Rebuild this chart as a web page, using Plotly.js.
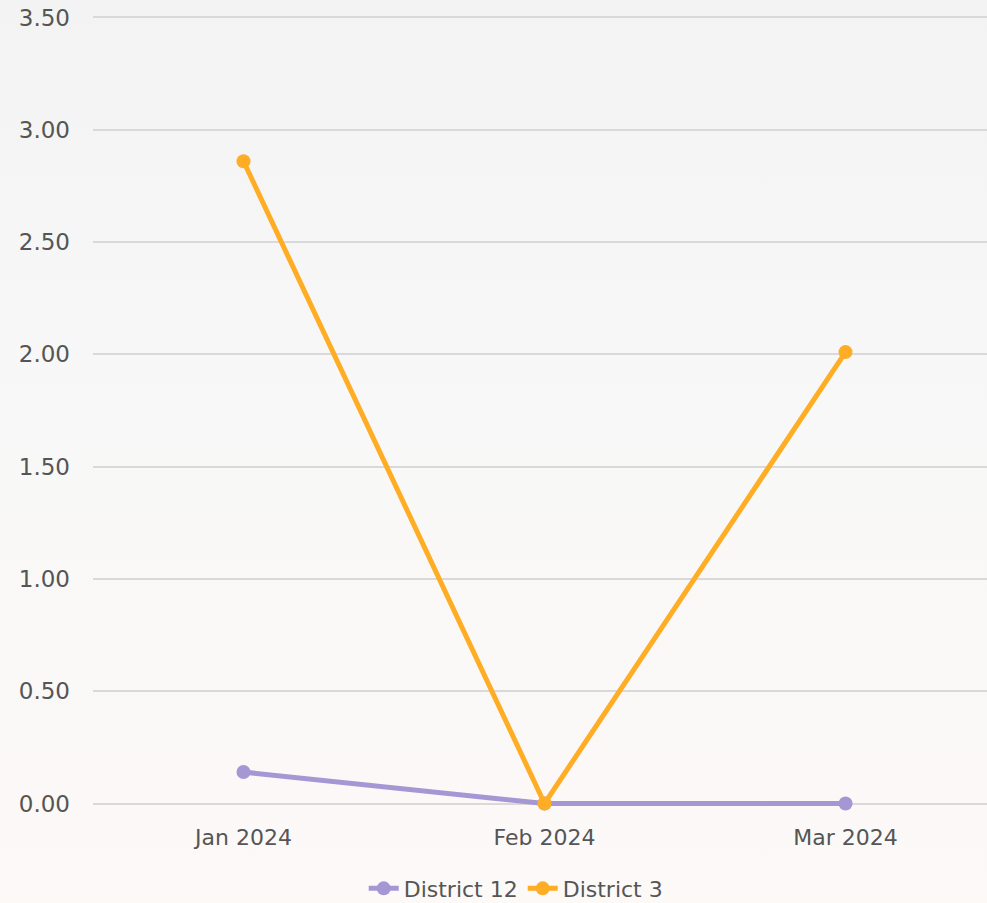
<!DOCTYPE html>
<html>
<head>
<meta charset="utf-8">
<script src="https://cdn.plot.ly/plotly-3.0.1.min.js"></script>
<style>
  html, body { margin: 0; padding: 0; }
  body { width: 987px; height: 903px; background: linear-gradient(180deg, #f3f3f3 0%, #f8f8f8 45%, #fcf9f7 100%); overflow: hidden; }
  #chart { width: 987px; height: 903px; }
</style>
</head>
<body>
<div id="chart"></div>
<script>
const categories = ["Jan 2024", "Feb 2024", "Mar 2024"];
const district12 = [0.14, 0.00, 0.00];
const district3 = [2.86, 0.00, 2.01];
const seriesNames = ["District 12", "District 3"];
const yTickValues = [0, 0.5, 1, 1.5, 2, 2.5, 3, 3.5];

const fontFam = "'DejaVu Sans', 'Open Sans', sans-serif";
const txt = "#555555";
const traces = [
  { x: categories, y: district12, name: seriesNames[0], type: "scatter", mode: "lines+markers",
    line: { color: "#a596d4", width: 5 }, marker: { color: "#a596d4", size: 14 }, cliponaxis: false },
  { x: categories, y: district3, name: seriesNames[1], type: "scatter", mode: "lines+markers",
    line: { color: "#ffad24", width: 5 }, marker: { color: "#ffad24", size: 14 }, cliponaxis: false }
];
const layout = {
  width: 987, height: 903,
  margin: { l: 93, r: 0, t: 13, b: 95 },
  paper_bgcolor: "rgba(0,0,0,0)",
  plot_bgcolor: "rgba(0,0,0,0)",
  font: { family: fontFam, size: 22, color: txt },
  showlegend: true,
  legend: { orientation: "h", x: 0.523, xanchor: "center", xref: "container", y: 0.016, yref: "container", yanchor: "middle",
            font: { family: fontFam, size: 22, color: txt }, tracegroupgap: 0 },
  xaxis: { type: "category", range: [-0.5, 2.47], showgrid: false, zeroline: false, showline: false,
           ticks: "", ticklabelstandoff: 14, tickfont: { family: fontFam, size: 22, color: txt }, fixedrange: true },
  yaxis: { range: [-0.02, 3.52], tickvals: yTickValues, tickformat: ".2f", showgrid: true, gridcolor: "#d9d9d9",
           gridwidth: 2, zeroline: false, showline: false, ticks: "", ticklabelstandoff: 22,
           tickfont: { family: fontFam, size: 23, color: txt }, fixedrange: true }
};
Plotly.newPlot("chart", traces, layout, { displayModeBar: false, staticPlot: true });
</script>
</body>
</html>
